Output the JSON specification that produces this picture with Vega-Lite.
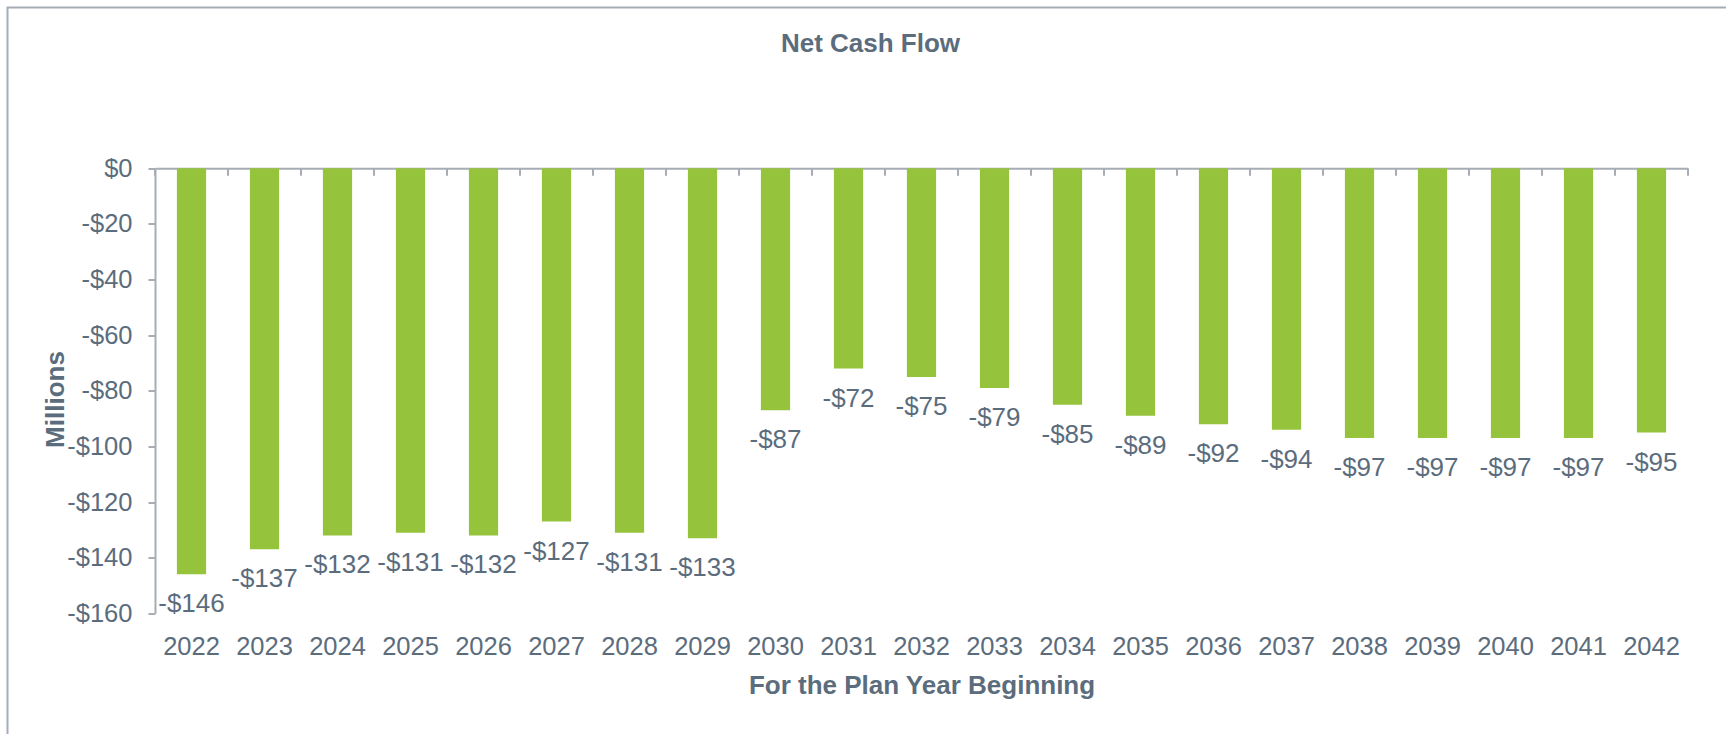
{
  "$schema": "https://vega.github.io/schema/vega-lite/v6.json",
  "width": 1726,
  "height": 734,
  "autosize": {"type": "none"},
  "padding": {"left": 7.5, "top": 7.5, "right": 0, "bottom": 0},
  "background": "white",
  "config": {
    "view": {"stroke": "#A5ACB3", "strokeWidth": 2},
    "font": "Liberation Sans",
    "locale": {"number": {"decimal": ".", "thousands": ",", "grouping": [3], "currency": ["$", ""], "minus": "-"}}
  },
  "title": {
    "text": "Net Cash Flow",
    "fontSize": 26,
    "fontWeight": "bold",
    "color": "#5B6C7D",
    "font": "Liberation Sans",
    "anchor": "middle",
    "baseline": "alphabetic",
    "offset": 0,
    "dy": 70
  },
  "data": {
    "values": [
      {"year": "2022", "value": -146},
      {"year": "2023", "value": -137},
      {"year": "2024", "value": -132},
      {"year": "2025", "value": -131},
      {"year": "2026", "value": -132},
      {"year": "2027", "value": -127},
      {"year": "2028", "value": -131},
      {"year": "2029", "value": -133},
      {"year": "2030", "value": -87},
      {"year": "2031", "value": -72},
      {"year": "2032", "value": -75},
      {"year": "2033", "value": -79},
      {"year": "2034", "value": -85},
      {"year": "2035", "value": -89},
      {"year": "2036", "value": -92},
      {"year": "2037", "value": -94},
      {"year": "2038", "value": -97},
      {"year": "2039", "value": -97},
      {"year": "2040", "value": -97},
      {"year": "2041", "value": -97},
      {"year": "2042", "value": -95}
    ]
  },
  "encoding": {
    "y": {
      "field": "value",
      "type": "quantitative",
      "scale": {"domain": [-160, 0], "range": [605.8, 160.8], "nice": false, "zero": true},
      "axis": {
        "orient": "left",
        "offset": -147.5,
        "values": [0, -20, -40, -60, -80, -100, -120, -140, -160],
        "format": "$.0f",
        "domain": true,
        "domainColor": "#A7ADB4",
        "domainWidth": 2,
        "ticks": true,
        "tickSize": 7,
        "tickWidth": 2,
        "tickColor": "#A7ADB4",
        "grid": false,
        "labelFontSize": 25.5,
        "labelColor": "#5B6C7D",
        "labelPadding": 16,
        "title": "Millions",
        "titleFontSize": 26,
        "titleFontWeight": "bold",
        "titleColor": "#5B6C7D",
        "titleAngle": 270,
        "titleBaseline": "alphabetic",
        "titleAlign": "center",
        "titleX": -91.7,
        "titleY": 391.5
      }
    }
  },
  "layer": [
    {
      "mark": {"type": "bar", "color": "#96C33C"},
      "encoding": {
        "x": {
          "field": "year",
          "type": "ordinal",
          "scale": {"range": [147.5, 1680.5], "paddingInner": 0.6, "paddingOuter": 0.3},
          "axis": {
            "orient": "bottom",
            "offset": -128.2,
            "domain": false,
            "ticks": false,
            "tickSize": 0,
            "grid": false,
            "labelAngle": 0,
            "labelPadding": 41,
            "labelBaseline": "alphabetic",
            "labelFontSize": 25.5,
            "labelColor": "#5B6C7D",
            "title": "For the Plan Year Beginning",
            "titleFontSize": 26,
            "titleFontWeight": "bold",
            "titleColor": "#5B6C7D",
            "titleBaseline": "alphabetic",
            "titleY": 80
          }
        }
      }
    },
    {
      "mark": {"type": "text", "baseline": "alphabetic", "dy": 38, "fontSize": 26, "color": "#5B6C7D"},
      "encoding": {
        "x": {
          "field": "year",
          "type": "ordinal",
          "scale": {"range": [147.5, 1680.5], "paddingInner": 0.6, "paddingOuter": 0.3},
          "axis": {
            "orient": "top",
            "offset": -160.8,
            "domain": true,
            "domainColor": "#A7ADB4",
            "domainWidth": 2,
            "ticks": true,
            "bandPosition": -0.75,
            "tickSize": -7,
            "tickWidth": 2,
            "tickColor": "#A7ADB4",
            "labels": false,
            "grid": false,
            "title": null
          }
        },
        "text": {"field": "value", "type": "quantitative", "format": "$.0f"}
      }
    },
    {
      "mark": {"type": "bar", "opacity": 0},
      "encoding": {
        "x": {
          "field": "year",
          "type": "ordinal",
          "scale": {"range": [147.5, 1680.5], "paddingInner": 0.6, "paddingOuter": 0.3},
          "axis": {
            "orient": "top",
            "offset": -160.8,
            "values": ["2042"],
            "domain": false,
            "ticks": true,
            "bandPosition": 1.75,
            "tickSize": -7,
            "tickWidth": 2,
            "tickColor": "#A7ADB4",
            "labels": false,
            "grid": false,
            "title": null
          }
        }
      }
    }
  ],
  "resolve": {"axis": {"x": "independent"}}
}
